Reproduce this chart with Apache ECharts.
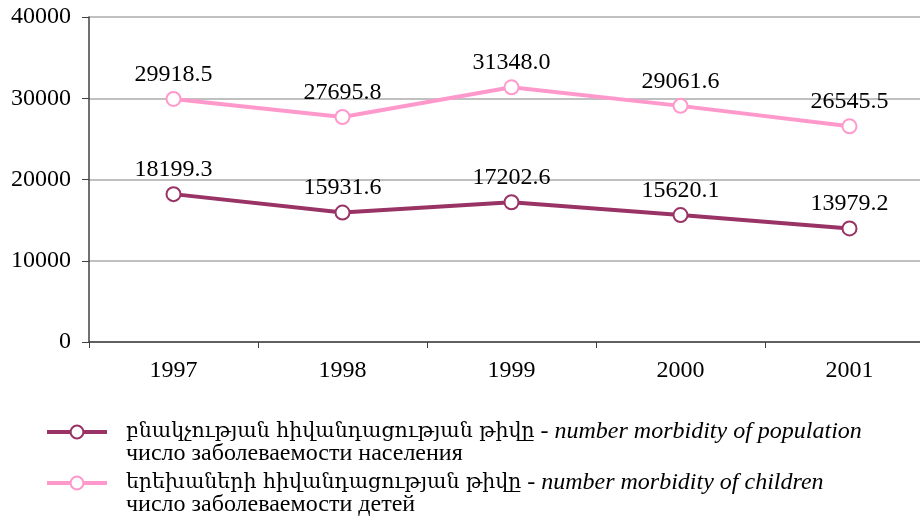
<!DOCTYPE html>
<html><head><meta charset="utf-8">
<script src="https://cdn.jsdelivr.net/npm/echarts@6/dist/echarts.min.js"></script>
<style>html,body{margin:0;padding:0;background:#fff}#c{width:920px;height:517px}</style>
</head><body><div id="c"></div>
<script>
const categories = ['1997','1998','1999','2000','2001'];
const population = [18199.3, 15931.6, 17202.6, 15620.1, 13979.2];
const children = [29918.5, 27695.8, 31348.0, 29061.6, 26545.5];
const yTicks = [0, 10000, 20000, 30000, 40000];
const nameAm1 = 'բնակչության հիվանդացության թիվը';
const nameEn1 = 'number morbidity of population';
const nameRu1 = 'число заболеваемости населения';
const nameAm2 = 'երեխաների հիվանդացության թիվը';
const nameEn2 = 'number morbidity of children';
const nameRu2 = 'число заболеваемости детей';

const FONT = '"Liberation Serif", "DejaVu Serif", serif';
const FS = 24;
const chart = echarts.init(document.getElementById('c'));
const richLeg = {
  e: {fontSize: FS, lineHeight: 22, fontFamily: FONT, color: '#000'},
  m: {fontSize: 20.5, lineHeight: 22, fontFamily: '"DejaVu Serif", serif', color: '#000'},
  a: {fontSize: FS, lineHeight: 22, fontFamily: FONT, color: '#000'},
  b: {fontSize: FS, lineHeight: 22, fontFamily: FONT, color: '#000', fontStyle: 'italic'}
};
const texts = {
  pop: [nameAm1, nameEn1, nameRu1],
  chi: [nameAm2, nameEn2, nameRu2]
};
function legFmt(name){
  const t = texts[name];
  return '{e| }\n{m|' + t[0] + '}{a| - }{b|' + t[1] + '}\n{a|' + t[2] + '}';
}
const labelCfg = {show: true, position: 'top', distance: 4.5, fontSize: FS, fontFamily: FONT, color: '#000',
  formatter: p => p.value.toFixed(1)};
const legBase = {orient: 'vertical', left: 40, itemWidth: 60, itemHeight: 16, itemGap: 0,
  lineStyle: {width: 4}, itemStyle: {borderWidth: 2.5},
  formatter: legFmt, textStyle: {rich: richLeg, padding: [0, 0, 0, 14]}, selectedMode: false};
chart.setOption({
  animation: false,
  grid: {left: 89, right: -14, top: 17, bottom: 175, outerBoundsMode: 'none'},
  xAxis: {
    type: 'category', data: categories, boundaryGap: true,
    axisLine: {lineStyle: {color: '#404040', width: 1.5}},
    axisTick: {show: true, length: 6, lineStyle: {color: '#404040'}},
    axisLabel: {fontSize: FS, fontFamily: FONT, color: '#000', margin: 17}
  },
  yAxis: {
    type: 'value', min: yTicks[0], max: yTicks[yTicks.length-1], interval: yTicks[1]-yTicks[0],
    axisLine: {show: true, lineStyle: {color: '#404040', width: 1.5}},
    axisTick: {show: true, length: 7, lineStyle: {color: '#404040'}},
    axisLabel: {fontSize: FS, fontFamily: FONT, color: '#000', margin: 18, formatter: v => String(v)},
    splitLine: {lineStyle: {color: '#C0C0C0', width: 2}}
  },
  legend: [
    Object.assign({data: ['pop'], top: 393}, legBase),
    Object.assign({data: ['chi'], top: 444}, legBase)
  ],
  series: [
    {name: 'pop', type: 'line', data: population, symbol: 'emptyCircle', symbolSize: 14,
     lineStyle: {color: '#993366', width: 4}, itemStyle: {color: '#993366', borderWidth: 2.5},
     label: labelCfg, z: 3},
    {name: 'chi', type: 'line', data: children, symbol: 'emptyCircle', symbolSize: 14,
     lineStyle: {color: '#FF99CC', width: 4}, itemStyle: {color: '#FF99CC', borderWidth: 2.5},
     label: labelCfg, z: 3}
  ]
});
</script></body></html>
